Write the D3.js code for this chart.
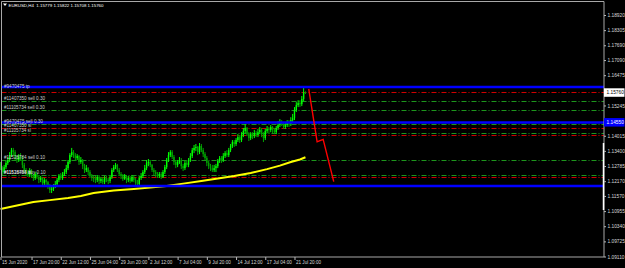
<!DOCTYPE html>
<html>
<head>
<meta charset="utf-8">
<script src="https://cdn.jsdelivr.net/npm/d3@7"></script>
<style>
  body { margin: 0; background: #000; }
  svg { display: block; }
  text { font-family: "Liberation Sans", Arial, sans-serif; }
</style>
</head>
<body>
<svg width="625" height="268"></svg>
<script>
// EURUSD H4, 15 Jun - 22 Jul 2020
const firstOpen = 1.1283;
const closes = [
  1.1270, 1.1254, 1.1274, 1.1291, 1.1303, 1.1323, 1.1343, 1.1335, 1.1311, 1.1303,
  1.1319, 1.1311, 1.1283, 1.1262, 1.1254, 1.1242, 1.1262, 1.1238, 1.1230, 1.1246,
  1.1234, 1.1222, 1.1230, 1.1209, 1.1222, 1.1213, 1.1197, 1.1181, 1.1185, 1.1197,
  1.1205, 1.1222, 1.1238, 1.1230, 1.1246, 1.1254, 1.1270, 1.1295, 1.1323, 1.1335,
  1.1323, 1.1311, 1.1319, 1.1295, 1.1303, 1.1278, 1.1262, 1.1270, 1.1254, 1.1238,
  1.1230, 1.1226,
  1.1222, 1.1234, 1.1218, 1.1226, 1.1213, 1.1230, 1.1222, 1.1218, 1.1234,
  1.1262, 1.1274, 1.1283, 1.1262, 1.1246, 1.1238, 1.1226, 1.1238, 1.1222, 1.1230,
  1.1218, 1.1234, 1.1222, 1.1209, 1.1205, 1.1230, 1.1238, 1.1254, 1.1270, 1.1291,
  1.1295, 1.1283, 1.1262, 1.1254, 1.1246, 1.1238, 1.1246, 1.1234, 1.1254, 1.1274,
  1.1303, 1.1323, 1.1335, 1.1315, 1.1295, 1.1283, 1.1295, 1.1303, 1.1278, 1.1270,
  1.1291, 1.1283, 1.1303, 1.1319, 1.1343, 1.1352, 1.1356, 1.1335, 1.1360, 1.1343,
  1.1327, 1.1311, 1.1291, 1.1278, 1.1270, 1.1262, 1.1270,
  1.1278, 1.1299, 1.1311, 1.1303,
  1.1319, 1.1331, 1.1323, 1.1343, 1.1360, 1.1376, 1.1368, 1.1384, 1.1396, 1.1384,
  1.1404, 1.1421, 1.1433, 1.1408, 1.1392, 1.1408, 1.1400, 1.1412, 1.1404, 1.1416,
  1.1425, 1.1408, 1.1392, 1.1421, 1.1429, 1.1425, 1.1437, 1.1425, 1.1416, 1.1433,
  1.1445, 1.1457, 1.1449, 1.1437, 1.1445, 1.1457, 1.1449, 1.1465, 1.1473, 1.1506,
  1.1526, 1.1534, 1.1530, 1.1551, 1.1578, 1.1576
];
const highs = [
  1.1295, 1.1278, 1.1283, 1.1299, 1.1315, 1.1335, 1.1352, 1.1352, 1.1343, 1.1323,
  1.1327, 1.1331, 1.1319, 1.1291, 1.1270, 1.1262, 1.1270, 1.1266, 1.1246, 1.1254,
  1.1254, 1.1242, 1.1238, 1.1234, 1.1230, 1.1226, 1.1218, 1.1205, 1.1197, 1.1205,
  1.1218, 1.1230, 1.1246, 1.1250, 1.1254, 1.1266, 1.1283, 1.1303, 1.1331, 1.1352,
  1.1343, 1.1331, 1.1327, 1.1323, 1.1315, 1.1307, 1.1287, 1.1283, 1.1274, 1.1262,
  1.1246, 1.1238,
  1.1238, 1.1242, 1.1238, 1.1234, 1.1234, 1.1238, 1.1238, 1.1230, 1.1242,
  1.1270, 1.1283, 1.1291, 1.1287, 1.1270, 1.1254, 1.1246, 1.1246, 1.1242, 1.1238,
  1.1238, 1.1242, 1.1238, 1.1230, 1.1222, 1.1238, 1.1250, 1.1262, 1.1283, 1.1303,
  1.1307, 1.1303, 1.1287, 1.1270, 1.1262, 1.1254, 1.1254, 1.1254, 1.1262, 1.1283,
  1.1311, 1.1335, 1.1343, 1.1343, 1.1323, 1.1303, 1.1303, 1.1315, 1.1311, 1.1287,
  1.1299, 1.1303, 1.1311, 1.1331, 1.1352, 1.1364, 1.1368, 1.1360, 1.1372, 1.1368,
  1.1352, 1.1335, 1.1319, 1.1299, 1.1287, 1.1283, 1.1283,
  1.1287, 1.1307, 1.1319, 1.1319,
  1.1331, 1.1339, 1.1343, 1.1352, 1.1368, 1.1384, 1.1384, 1.1392, 1.1408, 1.1404,
  1.1416, 1.1433, 1.1449, 1.1437, 1.1416, 1.1416, 1.1416, 1.1425, 1.1421, 1.1429,
  1.1437, 1.1433, 1.1416, 1.1429, 1.1441, 1.1437, 1.1445, 1.1441, 1.1433, 1.1441,
  1.1461, 1.1469, 1.1465, 1.1457, 1.1457, 1.1465, 1.1465, 1.1477, 1.1490, 1.1518,
  1.1538, 1.1546, 1.1546, 1.1563, 1.1599, 1.1582
];
const lows = [
  1.1262, 1.1242, 1.1246, 1.1266, 1.1283, 1.1295, 1.1315, 1.1319, 1.1303, 1.1291,
  1.1295, 1.1299, 1.1270, 1.1250, 1.1238, 1.1234, 1.1234, 1.1230, 1.1218, 1.1222,
  1.1226, 1.1209, 1.1213, 1.1197, 1.1201, 1.1197, 1.1185, 1.1169, 1.1169, 1.1177,
  1.1189, 1.1197, 1.1213, 1.1222, 1.1222, 1.1238, 1.1246, 1.1262, 1.1287, 1.1315,
  1.1311, 1.1299, 1.1303, 1.1283, 1.1287, 1.1266, 1.1250, 1.1254, 1.1242, 1.1230,
  1.1218, 1.1213,
  1.1209, 1.1213, 1.1205, 1.1209, 1.1205, 1.1205, 1.1213, 1.1205, 1.1209,
  1.1226, 1.1254, 1.1266, 1.1254, 1.1238, 1.1226, 1.1218, 1.1222, 1.1209, 1.1213,
  1.1209, 1.1213, 1.1213, 1.1197, 1.1193, 1.1201, 1.1222, 1.1230, 1.1246, 1.1262,
  1.1278, 1.1274, 1.1254, 1.1242, 1.1234, 1.1230, 1.1230, 1.1226, 1.1230, 1.1246,
  1.1266, 1.1295, 1.1315, 1.1307, 1.1283, 1.1270, 1.1274, 1.1287, 1.1266, 1.1258,
  1.1262, 1.1274, 1.1274, 1.1295, 1.1311, 1.1331, 1.1339, 1.1323, 1.1327, 1.1335,
  1.1315, 1.1303, 1.1278, 1.1266, 1.1258, 1.1254, 1.1254,
  1.1254, 1.1270, 1.1291, 1.1291,
  1.1295, 1.1311, 1.1315, 1.1315, 1.1335, 1.1352, 1.1356, 1.1360, 1.1376, 1.1372,
  1.1376, 1.1396, 1.1412, 1.1400, 1.1380, 1.1384, 1.1388, 1.1392, 1.1396, 1.1396,
  1.1408, 1.1396, 1.1376, 1.1384, 1.1412, 1.1412, 1.1416, 1.1412, 1.1408, 1.1408,
  1.1425, 1.1437, 1.1441, 1.1429, 1.1429, 1.1437, 1.1437, 1.1441, 1.1457, 1.1465,
  1.1498, 1.1518, 1.1518, 1.1522, 1.1542, 1.1571
];

// yellow moving average, sampled along its course
const maIdx = [0, 9, 18, 27, 37, 44, 51, 62, 73, 82, 91, 101, 110, 119, 128, 137, 146, 153, 159, 164, 167];
const maVal = [1.1104, 1.1118, 1.1132, 1.1140, 1.1149, 1.1157, 1.1169, 1.1179, 1.1185, 1.1191, 1.1197,
               1.1208, 1.1218, 1.1228, 1.1238, 1.1250, 1.1266, 1.1280, 1.1295, 1.1305, 1.1314];

// red projection line after the last bar
const projIdx = [168.8, 173.4, 174.3, 176.7, 182.5];
const projVal = [1.1592, 1.1377, 1.1380, 1.1387, 1.1215];

// horizontal objects
const blueLevels = [1.1600, 1.1455, 1.1197];
const orderLevels = [1.1578, 1.1541, 1.1507, 1.1448, 1.1431, 1.1414, 1.1403, 1.1303, 1.1241, 1.1233];
const orderTypes = ["tp", "sell", "sell", "sell", "sl", "sell", "sl", "sell", "buy", "sl"];
const labelTexts = ["#9470475 tp", "#11407350 sell 0.30", "#11105734 sell 0.30", "#9470475 sell 0.30",
                    "#11407350 sl", "#11105734 sl", "#11526784 sell 0.10", "#11618493 buy 0.10", "#11526784 sl"];
const labelLevels = [1.1590, 1.1541, 1.1507, 1.1448, 1.1431, 1.1414, 1.1303, 1.1241, 1.1241];

// price scale labels (the two hidden under the price tags are left out)
const priceTicks = [1.18920, 1.18305, 1.17690, 1.17090, 1.16475, 1.15245, 1.14015,
                    1.13400, 1.12785, 1.12170, 1.11570, 1.10955, 1.10340, 1.09725, 1.09110];
const timeIdx = [0, 17, 33, 49, 65, 81, 97, 113, 129, 145, 161];
const timeLabels = ["15 Jun 2020", "17 Jun 20:00", "22 Jun 12:00", "25 Jun 04:00", "29 Jun 20:00", "2 Jul 12:00",
                    "7 Jul 04:00", "9 Jul 20:00", "14 Jul 12:00", "17 Jul 04:00", "21 Jul 20:00"];
const header = "EURUSD,H4  1.15779 1.15822 1.15708 1.15760";
const bidPrice = 1.15760;
const blueLabel = "1.14550";

const svg = d3.select("svg");
const plotLeft = 1.5, plotRight = 604, plotTop = 1.5, plotBottom = 257;

const x = d3.scaleLinear().domain([0, 167]).range([0.5, 0.5 + 1.826 * 167]);
const y = d3.scaleLinear().domain([1.09110, 1.18920]).range([256.5, 15]);

svg.append("rect").attr("width", 625).attr("height", 268).attr("fill", "#000");

const plot = svg.append("g");

// order lines (dash-dot)
plot.selectAll(".order")
  .data(orderLevels)
  .enter()
  .append("line")
  .attr("x1", plotLeft).attr("x2", plotRight)
  .attr("y1", d => Math.round(y(d)) + 0.5).attr("y2", d => Math.round(y(d)) + 0.5)
  .attr("stroke", (d, i) => (orderTypes[i] === "sl" || orderTypes[i] === "tp") ? "#d00000" : "#1c961c")
  .attr("stroke-width", 1)
  .attr("stroke-dasharray", "5,2,1,2");

// candles
const bars = closes.map((c, i) => {
  const o = i === 0 ? firstOpen : closes[i - 1];
  return { i, o, c, h: Math.max(highs[i], o, c), l: Math.min(lows[i], o, c) };
});
const barColor = d => d.c >= d.o ? "#00ff00" : "#00a400";

const candle = plot.selectAll(".bar")
  .data(bars)
  .enter()
  .append("g");

candle.append("line")
  .attr("x1", d => x(d.i)).attr("x2", d => x(d.i))
  .attr("y1", d => y(d.h)).attr("y2", d => y(d.l))
  .attr("stroke", barColor)
  .attr("stroke-width", 1);

candle.append("rect")
  .attr("x", d => x(d.i) - 0.7)
  .attr("width", 1.4)
  .attr("y", d => y(Math.max(d.o, d.c)))
  .attr("height", d => Math.max(0.8, Math.abs(y(d.o) - y(d.c))))
  .attr("fill", barColor);

// moving average
plot.append("path")
  .datum(maIdx.map((d, i) => [d, maVal[i]]))
  .attr("fill", "none")
  .attr("stroke", "#ffff00")
  .attr("stroke-width", 2)
  .attr("d", d3.line().x(d => x(d[0])).y(d => y(d[1])));

// blue horizontal lines
plot.selectAll(".blue")
  .data(blueLevels)
  .enter()
  .append("line")
  .attr("x1", plotLeft).attr("x2", plotRight)
  .attr("y1", d => y(d)).attr("y2", d => y(d))
  .attr("stroke", "#0000ff")
  .attr("stroke-width", 2.5);

// red projection
plot.append("path")
  .datum(projIdx.map((d, i) => [d, projVal[i]]))
  .attr("fill", "none")
  .attr("stroke", "#ff0000")
  .attr("stroke-width", 1.4)
  .attr("d", d3.line().x(d => x(d[0])).y(d => y(d[1])));

// order labels
plot.selectAll(".olabel")
  .data(labelTexts)
  .enter()
  .append("text")
  .attr("x", 4)
  .attr("y", (d, i) => y(labelLevels[i]) - 1)
  .attr("font-size", 4.6)
  .attr("fill", "#cfcfcf")
  .text(d => d);

// frame
svg.append("path")
  .attr("d", `M${plotLeft},${plotTop}H${plotRight}V${plotBottom}H${plotLeft}Z`)
  .attr("fill", "none")
  .attr("stroke", "#a8a8a8")
  .attr("stroke-width", 1);
svg.append("line")
  .attr("x1", 603.5).attr("x2", 603.5).attr("y1", 143).attr("y2", 210)
  .attr("stroke", "#ffffff").attr("stroke-width", 1.5);

// price axis
const yAxis = svg.append("g")
  .attr("transform", `translate(${plotRight},0)`)
  .attr("color", "#b8b8b8")
  .call(d3.axisRight(y).tickValues(priceTicks).tickSize(2).tickPadding(1.5).tickFormat(d3.format(".5f")));
yAxis.select(".domain").remove();
yAxis.selectAll("text")
  .attr("font-size", 4.8)
  .attr("font-family", "'Liberation Sans', Arial, sans-serif")
  .attr("fill", "#d8d8d8");

// time axis
const xAxis = svg.append("g")
  .attr("transform", `translate(0,${plotBottom})`)
  .attr("color", "#b8b8b8")
  .call(d3.axisBottom(x).tickValues(timeIdx).tickSize(3).tickPadding(1).tickFormat((d, i) => timeLabels[i]));
xAxis.select(".domain").remove();
xAxis.selectAll("text")
  .attr("text-anchor", "start")
  .attr("x", 1)
  .attr("font-size", 4.6)
  .attr("font-family", "'Liberation Sans', Arial, sans-serif")
  .attr("fill", "#d8d8d8");

// bid price tag
svg.append("rect")
  .attr("x", plotRight).attr("y", y(bidPrice) - 4.5)
  .attr("width", 20.5).attr("height", 8.5)
  .attr("fill", "#ffffff");
svg.append("text")
  .attr("x", plotRight + 2.5).attr("y", y(bidPrice) + 1.7)
  .attr("font-size", 4.8).attr("fill", "#000")
  .text(d3.format(".5f")(bidPrice));

// blue line price tag
svg.append("rect")
  .attr("x", plotRight).attr("y", y(blueLevels[1]) - 4.5)
  .attr("width", 20.5).attr("height", 8.5)
  .attr("fill", "#0000ff");
svg.append("text")
  .attr("x", plotRight + 2.5).attr("y", y(blueLevels[1]) + 1.7)
  .attr("font-size", 4.8).attr("fill", "#ffffff")
  .text(blueLabel);

// header
svg.append("path")
  .attr("d", "M3,3.5L7,3.5L5,6Z")
  .attr("fill", "#ffffff");
svg.append("text")
  .attr("x", 8.5).attr("y", 7)
  .attr("font-size", 4.4)
  .attr("fill", "#ffffff")
  .attr("xml:space", "preserve")
  .text(header);
</script>
</body>
</html>
